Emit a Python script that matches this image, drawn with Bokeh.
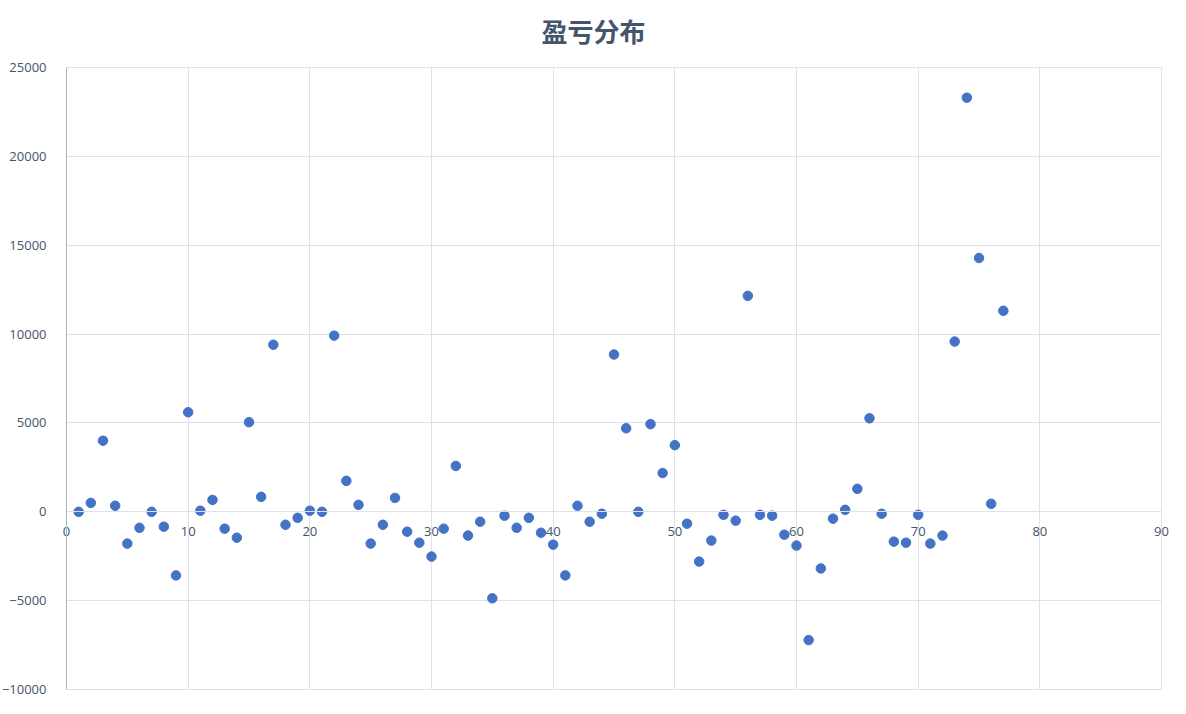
from bokeh.plotting import figure
from bokeh.models import FixedTicker, Range1d, ColumnDataSource, Label
from bokeh.embed import file_html
from bokeh.resources import INLINE

trade_no = list(range(1, 78))
pnl = [0, 500, 4000, 340, -1790, -900, 0, -840, -3580, 5600,
       60, 670, -950, -1460, 5040, 840, 9400, -730, -340, 60,
       0, 9910, 1740, 390, -1790, -730, 780, -1120, -1740, -2520,
       -950, 2580, -1340, -560, -4870, -220, -900, -340, -1180, -1850,
       -3580, 340, -560, -110, 8850, 4700, 0, 4930, 2180, 3750,
       -670, -2800, -1620, -170, -500, 12150, -170, -220, -1290, -1900,
       -7220, -3190, -390, 110, 1290, 5260, -110, -1680, -1740, -170,
       -1790, -1340, 9580, 23300, 14280, 450, 11310]
x_ticks = [0, 10, 20, 30, 40, 50, 60, 70, 80, 90]
y_ticks = [-10000, -5000, 0, 5000, 10000, 15000, 20000, 25000]
title_text = "盈亏分布"

X_MIN, X_MAX = 0, 90
Y_MIN, Y_MAX = -10000, 25000

src = ColumnDataSource(dict(x=trade_no, y=pnl))

grid_c = "#DEE2E8"
label_c = "#44546A"

W, H = 1170, 698
# pixel placement of the plotting area inside the figure
px_left, px_right = 66, 1161
px_top, px_bottom = 67, 689
sx = (px_right - px_left) / (X_MAX - X_MIN)
sy = (px_bottom - px_top) / (Y_MAX - Y_MIN)
xr = Range1d(X_MIN - px_left / sx, X_MAX + (W - px_right) / sx)
yr = Range1d(Y_MIN - (H - px_bottom) / sy, Y_MAX + px_top / sy)

p = figure(width=W, height=H, output_backend="svg", toolbar_location=None,
           x_range=xr, y_range=yr,
           min_border_left=0, min_border_right=0, min_border_top=0, min_border_bottom=0)

p.outline_line_color = None
p.background_fill_color = "white"
p.border_fill_color = "white"

p.scatter("x", "y", source=src, size=9.5, color="#4472C4", line_color="#4472C4")

p.xaxis.ticker = FixedTicker(ticks=x_ticks)
p.yaxis.ticker = FixedTicker(ticks=y_ticks)
p.xgrid.ticker = FixedTicker(ticks=x_ticks)
p.ygrid.ticker = FixedTicker(ticks=y_ticks)
p.grid.grid_line_color = grid_c
p.grid.grid_line_width = 1
p.xgrid.bounds = (X_MIN, X_MAX)
p.ygrid.bounds = (Y_MIN, Y_MAX)
p.xgrid.cross_bounds = (Y_MIN, Y_MAX)
p.ygrid.cross_bounds = (X_MIN, X_MAX)

p.xaxis.fixed_location = 0
p.yaxis.fixed_location = X_MIN
p.xaxis.bounds = (X_MIN, X_MAX)
p.yaxis.bounds = (Y_MIN, Y_MAX)
for ax in (p.xaxis, p.yaxis):
    ax.major_tick_line_color = None
    ax.minor_tick_line_color = None
    ax.major_label_text_font = "Open Sans"
    ax.major_label_text_font_size = "13px"
    ax.major_label_text_color = label_c
p.xaxis.axis_line_color = grid_c
p.yaxis.axis_line_color = "#A9B8C8"
p.yaxis.major_label_standoff = 14
p.xaxis.major_label_standoff = 9

title = Label(x=593, y=H - 30, x_units="screen", y_units="screen", text=title_text,
              text_font="Noto Sans CJK SC", text_font_size="26px", text_font_style="bold",
              text_color="#44546A", text_align="center", text_baseline="middle")
p.add_layout(title)

open("out.html", "w").write(file_html(p, INLINE))
